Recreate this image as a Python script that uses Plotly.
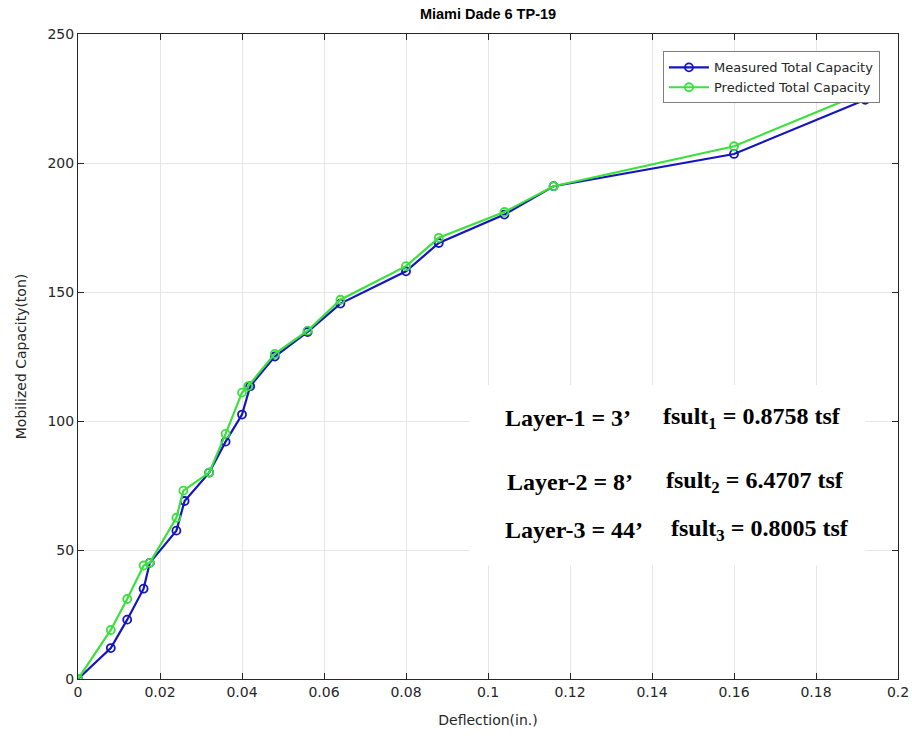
import plotly.graph_objects as go

# Data
meas_x = [0, 0.008, 0.012, 0.016, 0.0175, 0.024, 0.026, 0.032, 0.036, 0.040, 0.042,
          0.048, 0.056, 0.064, 0.080, 0.088, 0.104, 0.116, 0.160, 0.192]
meas_y = [0, 12, 23, 35, 45, 57.5, 69, 80, 92, 102.5, 113.5,
          125, 134.5, 145.5, 158, 169, 180, 191, 203.5, 224.5]

pred_x = [0, 0.008, 0.012, 0.016, 0.0175, 0.024, 0.0257, 0.032, 0.036, 0.040, 0.0415,
          0.048, 0.056, 0.064, 0.080, 0.088, 0.104, 0.116, 0.160, 0.192]
pred_y = [0, 19, 31, 44, 45, 62.5, 73, 80, 95, 111, 113.5,
          126, 135, 147, 160, 171, 181, 191, 206.5, 227.5]

x_ticks = [0, 0.02, 0.04, 0.06, 0.08, 0.1, 0.12, 0.14, 0.16, 0.18, 0.2]
x_tick_labels = ["0", "0.02", "0.04", "0.06", "0.08", "0.1", "0.12", "0.14", "0.16", "0.18", "0.2"]
y_ticks = [0, 50, 100, 150, 200, 250]

layer_names = ["Layer-1 = 3’", "Layer-2 = 8’", "Layer-3 = 44’"]
fsult_texts = ["fsult<sub>1</sub> = 0.8758 tsf",
               "fsult<sub>2</sub> = 6.4707 tsf",
               "fsult<sub>3</sub> = 0.8005 tsf"]

BLUE = "#1414C0"
GREEN = "#3CE03C"
AX = "#262626"
SANS = "DejaVu Sans, Verdana, sans-serif"
TITLE_FONT = "Liberation Sans, Arial, sans-serif"
SERIF = "Liberation Serif, Times New Roman, serif"

fig = go.Figure()
fig.add_trace(go.Scatter(
    x=meas_x, y=meas_y, mode="lines+markers", name="Measured Total Capacity",
    line=dict(color=BLUE, width=2.2),
    marker=dict(symbol="circle-open", size=8, color=BLUE, line=dict(width=1.8, color=BLUE)),
))
fig.add_trace(go.Scatter(
    x=pred_x, y=pred_y, mode="lines+markers", name="Predicted Total Capacity",
    line=dict(color=GREEN, width=2.2),
    marker=dict(symbol="circle-open", size=8, color=GREEN, line=dict(width=1.8, color=GREEN)),
))

# white text box (hides grid lines behind the annotation)
fig.add_shape(type="rect", xref="x", yref="y", x0=0.0955, x1=0.192, y0=44, y1=114,
              fillcolor="white", line=dict(width=0), layer="between")

name_pos = [(0.1036, 101), (0.1041, 76.2), (0.1036, 57.6)]
fs_pos = [(0.1421, 101), (0.1429, 76.2), (0.1441, 57.6)]
for name, (nx, ny), fs, (fx, fy) in zip(layer_names, name_pos, fsult_texts, fs_pos):
    fig.add_annotation(x=nx, y=ny, xref="x", yref="y", text=name, showarrow=False,
                       xanchor="left", yanchor="middle",
                       font=dict(family=SERIF, size=24, color="black", weight="bold"))
    fig.add_annotation(x=fx, y=fy, xref="x", yref="y", text=fs, showarrow=False,
                       xanchor="left", yanchor="middle",
                       font=dict(family=SERIF, size=24, color="black", weight="bold"))

axis_common = dict(
    showline=True, linecolor=AX, linewidth=1, mirror="ticks",
    ticks="inside", ticklen=6, tickcolor=AX,
    showgrid=True, gridcolor="#E6E6E6", gridwidth=1,
    zeroline=False, automargin=False,
    tickfont=dict(family=SANS, size=14, color=AX),
)

fig.update_layout(
    width=912, height=740,
    paper_bgcolor="white", plot_bgcolor="white",
    margin=dict(l=78, r=14, t=34, b=61),
    title=dict(text="<b>Miami Dade 6 TP-19</b>", x=0.5, xanchor="center", xref="paper",
               y=1 - 14 / 740, yref="container", yanchor="middle",
               font=dict(family=TITLE_FONT, size=14.5, color="black")),
    xaxis=dict(range=[0, 0.2], tickvals=x_ticks, ticktext=x_tick_labels,
               title=dict(text="Deflection(in.)", standoff=16,
                          font=dict(family=SANS, size=14, color=AX)),
               **axis_common),
    yaxis=dict(range=[0, 250], tickvals=y_ticks,
               title=dict(text="Mobilized Capacity(ton)", standoff=17,
                          font=dict(family=SANS, size=14, color=AX)),
               **axis_common),
    legend=dict(x=0.978, y=0.973, xanchor="right", yanchor="top",
                bgcolor="white", bordercolor="#7F7F7F", borderwidth=1,
                font=dict(family=SANS, size=13, color=AX),
                tracegroupgap=0, itemwidth=40),
    showlegend=True,
)

fig.write_html("out.html", config={"displayModeBar": False},
               post_script="document.body.style.margin='0';document.body.style.overflow='hidden';")
